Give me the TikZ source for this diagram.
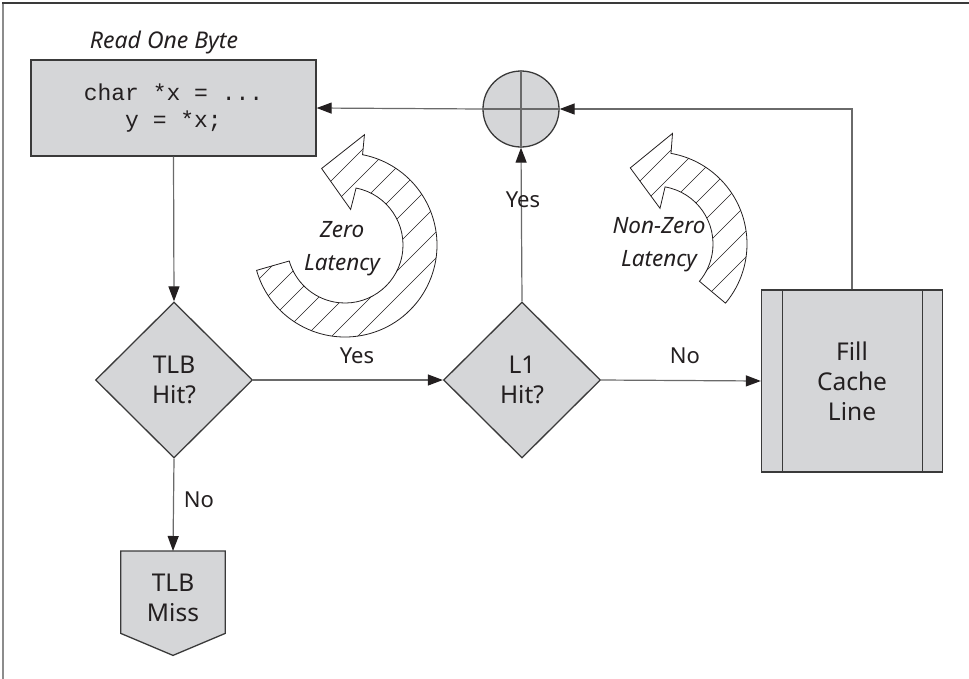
\documentclass[tikz,border=0pt]{standalone}
\usepackage{fontspec}
\setmainfont{Noto Sans}
\setmonofont{Liberation Mono}
\usetikzlibrary{shapes.geometric,arrows.meta,calc}
\definecolor{boxgray}{HTML}{D5D6D8}
\definecolor{linegray}{HTML}{6A6A6A}
\definecolor{edgegray}{HTML}{3A3A3A}
\definecolor{ink}{HTML}{231F20}
\newcommand{\nodefont}{\fontsize{24.5}{30}\selectfont}
\newcommand{\lblfont}{\fontsize{22}{25}\selectfont}
\newcommand{\curlfont}{\fontsize{22.5}{33}\selectfont\itshape}
\newcommand{\codefont}{\fontsize{23}{27}\selectfont\ttfamily}
% curly hatched arrow outline: #1 tail angle, #2 head base angle
\newcommand{\curlpath}[2]{(#1:92) arc[start angle=#1, end angle=#2, radius=92]
  -- ({#2+1}:112) -- ({#2+28}:80) -- ({#2+2}:36) -- (#2:58)
  arc[start angle=#2, end angle=#1, radius=58] -- cycle}
\begin{document}
\begin{tikzpicture}[x=1pt,y=1pt,
  conn/.style={draw=linegray, line width=1.2pt},
  arr/.style={conn, -{Triangle[length=15pt,width=11pt,color=ink]}},
  boxnode/.style={draw=edgegray, fill=boxgray, line width=1.3pt, text=ink, inner sep=0pt},
  decision/.style={boxnode, diamond, minimum width=157pt, minimum height=156pt, align=center, font=\nodefont},
  edgelbl/.style={text=ink, font=\lblfont, inner sep=0pt},
  curltext/.style={text=ink, font=\curlfont, align=center, inner sep=0pt},
  hatchline/.style={draw=ink, line width=0.6pt},
  curloutline/.style={draw=ink, line width=0.8pt}]
\useasboundingbox (0,0) rectangle (969,-678);
% frame
\draw[draw=gray!90, line width=2.2pt] (3,-680) -- (3,-3);
\draw[draw=edgegray, line width=1.4pt] (2,-3) -- (972,-3);

% nodes
\node[text=ink, font=\fontsize{23}{25}\selectfont\itshape, inner sep=0pt] (title) at (164,-43) {Read One Byte};
\node[boxnode, rectangle, minimum width=285pt, minimum height=96pt, align=center, font=\codefont] (read) at (173.5,-108) {char *x = ...\\y = *x;};
\node[boxnode, circle, minimum size=76pt] (sum) at (521,-109) {};
\draw[draw=linegray, line width=1.2pt] (sum.north) -- (sum.south) (sum.west) -- (sum.east);
\node[decision] (tlb) at (174,-380) {TLB\\Hit?};
\node[decision] (l1) at (522,-380) {L1\\Hit?};
\node[boxnode, rectangle, minimum width=181pt, minimum height=182pt] (fill) at (852,-381) {};
\draw[draw=edgegray, line width=1.2pt] ($(fill.north west)+(22,0)$) -- ($(fill.south west)+(22,0)$)
  ($(fill.north east)+(-21,0)$) -- ($(fill.south east)+(-21,0)$);
\node[text=ink, font=\nodefont, align=center, inner sep=0pt] (filltext) at (fill.center) {Fill\\Cache\\Line};
\node[rectangle, minimum width=104pt, minimum height=82pt, anchor=north, inner sep=0pt] (miss) at (173,-551) {};
\draw[boxnode] (miss.north west) -- (miss.north east) -- (miss.south east) -- ($(miss.south)+(0,-22)$) -- (miss.south west) -- cycle;
\node[text=ink, font=\nodefont, align=center, inner sep=0pt] (misstext) at (173,-598) {TLB\\Miss};

% connectors
\draw[arr] (read.south) -- (tlb.north);
\draw[arr] (tlb.east) -- (l1.west);
\draw[arr] (l1.east) -- (fill.west);
\draw[arr] (l1.north) -- (sum.south);
\coordinate (corner) at (fill.north |- sum.east);
\draw[arr] (fill.north) -- (corner) -- (sum.east);
\draw[arr] (sum.west) -- (read.east);
\draw[arr] (tlb.south) -- (miss.north);

% edge labels
\node[edgelbl] (lyes1) at (357,-356) {Yes};
\node[edgelbl] (lno1) at (685,-356) {No};
\node[edgelbl] (lyes2) at (523,-200) {Yes};
\node[edgelbl] (lno2) at (199,-500) {No};

% zero latency curl
\begin{scope}[shift={(345,-245)}]
  \begin{scope}
    \clip \curlpath{196}{439};
    \foreach \k in {-286,-260,...,286} \draw[hatchline] ({\k-160},-160) -- ({\k+160},160);
  \end{scope}
  \draw[curloutline] \curlpath{196}{439};
\end{scope}
\node[curltext] (zerotext) at (342,-249) {Zero\\Latency};

% non-zero latency curl
\begin{scope}[shift={(655,-244)}]
  \begin{scope}
    \clip \curlpath{-40}{80};
    \foreach \k in {-286,-260,...,286} \draw[hatchline] ({\k-160},-160) -- ({\k+160},160);
  \end{scope}
  \draw[curloutline] \curlpath{-40}{80};
\end{scope}
\node[curltext] (nonzerotext) at (659,-245) {Non-Zero\\Latency};
\end{tikzpicture}
\end{document}
